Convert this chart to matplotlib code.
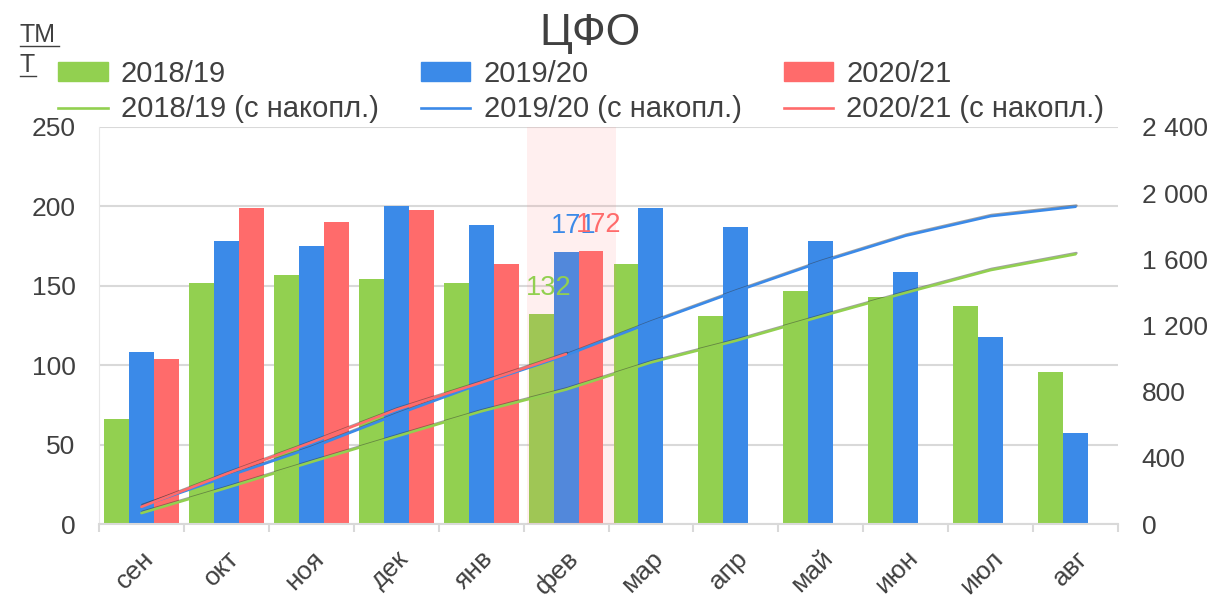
import numpy as np
import matplotlib.pyplot as plt
import matplotlib.patheffects as pe
from matplotlib.lines import Line2D
from matplotlib.patches import Patch
from matplotlib.ticker import FuncFormatter, MultipleLocator

plt.rcParams['font.family'] = ['Liberation Sans', 'DejaVu Sans']

months = ["сен", "окт", "ноя", "дек", "янв", "фев", "мар", "апр", "май", "июн", "июл", "авг"]
s1819 = [66, 152, 157, 154, 152, 132, 164, 131, 147, 143, 137, 96]
s1920 = [108, 178, 175, 200, 188, 171, 199, 187, 178, 159, 118, 57]
s2021 = [104, 199, 190, 198, 164, 172]
seasons = ["2018/19", "2019/20", "2020/21"]
colors = ["#92d050", "#3b8ae8", "#ff6b6b"]
hl = 5  # фев - current month

txt = "#404040"
grid_c = "#d9d9d9"

fig = plt.figure(figsize=(12.29, 5.99), dpi=100)
ax = fig.add_axes([99/1229, 1 - 524/599, (1118 - 99)/1229, (524 - 127)/599])
ax2 = ax.twinx()

x = np.arange(len(months))
w = 0.294
series = [s1819, s1920, s2021]
for i, (vals, c) in enumerate(zip(series, colors)):
    xi = x[:len(vals)] + (i - 1) * w
    ax.bar(xi, vals, width=w, color=c, zorder=2)
    # data labels for the highlighted month
    ax.annotate(str(vals[hl]), (xi[hl], vals[hl]), xytext=(8, 26),
                textcoords="offset pixels", ha="center", va="center",
                fontsize=19.5, color=c, zorder=7)

# highlighted month band
ax.axvspan(hl - 0.46, hl + 0.59, color="#ff8080", alpha=0.12, lw=0, zorder=5)

ax.set_xlim(-0.5, len(months) - 0.5)
ax.set_ylim(0, 250)
ax.yaxis.set_major_locator(MultipleLocator(50))
ax.grid(axis="y", color=grid_c, lw=1.5, zorder=0)
ax.set_axisbelow(True)
for s in ["top", "right"]:
    ax.spines[s].set_visible(False)
ax.spines["left"].set_color("#e8e8e8")
ax.spines["bottom"].set_color(grid_c)
ax.spines["bottom"].set_linewidth(1.5)
ax.set_xticks(x)
ax.set_xticklabels(months, rotation=45, ha="right", va="top", rotation_mode="anchor")
ax.set_xticks(np.arange(len(months) + 1) - 0.5, minor=True)
ax.tick_params(axis="x", which="major", length=0, pad=16, labelsize=19, labelcolor=txt)
ax.tick_params(axis="x", which="minor", length=6, width=1.5, color=grid_c)
ax.tick_params(axis="y", length=0, pad=17, labelsize=19, labelcolor=txt)

# cumulative lines
for vals, c in zip(series, colors):
    ax2.plot(x[:len(vals)], np.cumsum(vals), color=c, lw=1.9, solid_capstyle="round",
             path_effects=[pe.SimpleLineShadow(offset=(0.6, 0.8), shadow_color="#303030", alpha=0.45),
                           pe.Normal()])
ax2.set_ylim(0, 2400)
ax2.yaxis.set_major_locator(MultipleLocator(400))
ax2.yaxis.set_major_formatter(FuncFormatter(lambda v, p: f"{int(v):,}".replace(",", " ")))
ax2.tick_params(axis="y", length=0, pad=17, labelsize=19, labelcolor=txt)
for s in ax2.spines.values():
    s.set_visible(False)

# legend: bars on first row, lines on second
handles, labels = [], []
for s, c in zip(seasons, colors):
    handles += [Patch(color=c), Line2D([], [], color=c, lw=1.9)]
    labels += [s, s + " (с накопл.)"]
fig.legend(handles, labels, ncol=3, loc="upper left", bbox_to_anchor=(58/1229, 1 - 60/599),
           frameon=False, fontsize=21, handlelength=1.7, handleheight=0.6, handletextpad=0.45,
           columnspacing=1.45, labelspacing=0.25, borderpad=0, borderaxespad=0, labelcolor=txt)

fig.text(590/1229, 1 - 33/599, "ЦФО", ha="center", va="center", fontsize=32, color=txt)

# unit label, underlined
fig.text(20/1229, 1 - 42/599, "ТМ", ha="left", va="baseline", fontsize=18, color=txt)
fig.text(20/1229, 1 - 72/599, "Т", ha="left", va="baseline", fontsize=18, color=txt)
fig.add_artist(Line2D([20/1229, 59/1229], [1 - 46/599] * 2, color=txt, lw=1))
fig.add_artist(Line2D([20/1229, 36/1229], [1 - 76/599] * 2, color=txt, lw=1))

fig.savefig("out.png", dpi=100)
